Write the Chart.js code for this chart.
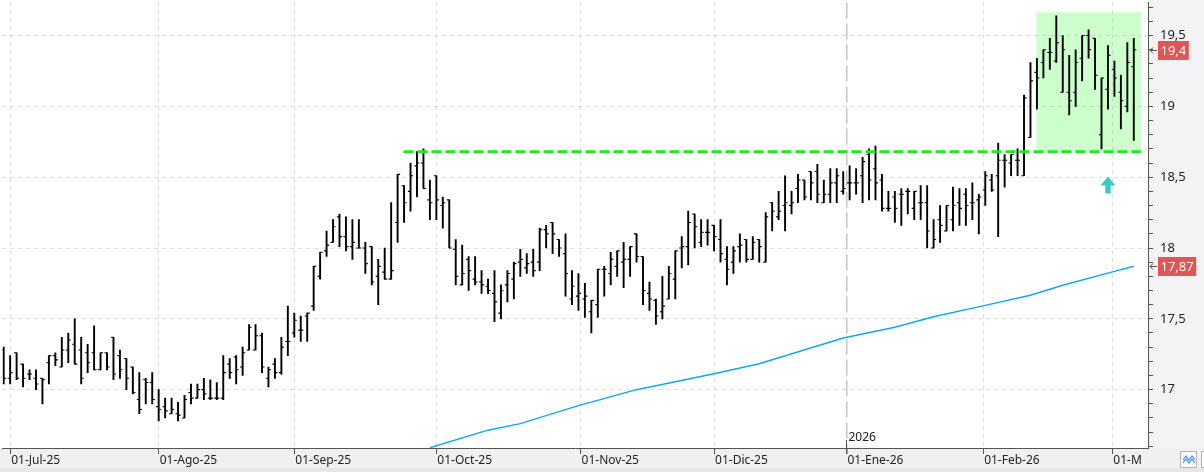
<!DOCTYPE html>
<html>
<head>
<meta charset="utf-8">
<script src="https://cdn.jsdelivr.net/npm/chart.js@4.4.1/dist/chart.umd.min.js"></script>
<style>
  html, body { margin: 0; padding: 0; background: #fff; }
  #wrap { width: 1204px; height: 472px; }
</style>
</head>
<body>
<div id="wrap"><canvas id="chart" width="1204" height="472"></canvas></div>
<script>
// daily bars, 30-Jun-25 .. 05-Mar-26 (one entry per trading day)
const opens = [17.28,17.08,17.26,17.18,17.11,17.08,17.08,17.19,17.24,17.16,17.28,17.32,17.28,17.26,17.26,17.14,17.26,17.37,17.24,17.22,17.16,16.93,17.07,17.05,
  16.88,16.88,16.83,16.83,16.80,16.98,16.94,17.00,16.94,16.94,16.94,17.18,17.23,17.16,17.28,17.28,17.38,17.08,17.18,17.12,17.34,
  17.40,17.42,17.52,17.59,17.80,17.98,18.04,18.22,18.08,18.01,18.00,18.00,18.01,17.80,17.83,17.78,18.18,18.44,18.40,18.58,18.60,18.34,
  18.51,18.30,18.34,17.99,17.74,17.92,17.78,17.76,17.73,17.68,17.54,17.74,17.78,17.90,17.86,17.90,17.90,18.13,18.18,18.06,17.96,17.64,17.66,
  17.64,17.55,17.60,17.85,17.82,17.87,17.90,17.92,18.10,17.94,17.68,17.63,17.55,17.64,17.78,18.00,18.01,18.24,18.04,18.11,
  18.16,18.06,17.92,17.90,18.01,18.06,17.92,18.06,17.90,18.32,18.22,18.30,18.30,18.42,18.48,18.54,18.54,18.32,18.38,18.46,18.40,
  18.46,18.46,18.51,18.66,18.56,18.48,18.28,18.36,18.38,18.40,18.28,18.32,18.32,18.00,18.20,18.12,18.20,18.32,18.38,18.32,18.34,
  18.41,18.48,18.51,18.62,18.60,18.62,18.51,18.78,19.24,19.31,19.38,19.32,19.10,19.10,19.10,19.34,19.50,19.48,18.80,19.12,
  19.26,19.10,19.00,19.28];
const highs = [17.30,17.24,17.26,17.18,17.14,17.14,17.08,17.24,17.26,17.37,17.40,17.50,17.37,17.32,17.45,17.26,17.26,17.37,17.28,17.22,17.16,17.12,17.08,17.12,
  17.00,16.94,16.94,16.91,16.96,17.04,17.04,17.08,17.07,17.05,17.24,17.22,17.24,17.30,17.46,17.46,17.40,17.16,17.22,17.37,17.59,
  17.54,17.52,17.54,17.87,17.97,18.12,18.20,18.24,18.22,18.20,18.20,18.04,18.01,17.92,18.00,18.32,18.52,18.44,18.60,18.68,18.70,18.48,
  18.51,18.36,18.34,18.06,18.02,17.94,17.94,17.84,17.78,17.84,17.74,17.84,17.90,17.99,17.96,17.99,18.14,18.16,18.18,18.06,18.10,17.84,17.82,
  17.75,17.63,17.85,17.87,17.97,17.98,18.04,18.01,18.10,17.94,17.76,17.64,17.80,17.87,17.98,18.08,18.26,18.24,18.20,18.20,
  18.16,18.20,18.01,18.01,18.10,18.06,18.08,18.06,18.25,18.32,18.40,18.51,18.40,18.52,18.48,18.54,18.59,18.48,18.56,18.56,18.54,
  18.58,18.56,18.64,18.70,18.72,18.52,18.40,18.40,18.42,18.42,18.40,18.44,18.44,18.20,18.30,18.30,18.43,18.42,18.42,18.46,18.38,
  18.54,18.52,18.74,18.66,18.66,18.70,19.08,19.31,19.34,19.40,19.48,19.64,19.50,19.36,19.40,19.50,19.54,19.48,19.20,19.43,
  19.32,19.22,19.45,19.48];
const lows = [17.04,17.04,17.07,17.02,17.07,17.00,16.90,17.04,17.17,17.16,17.19,17.18,17.04,17.12,17.14,17.14,17.14,17.07,17.08,17.00,16.97,16.83,16.90,16.90,
  16.78,16.80,16.83,16.78,16.80,16.90,16.94,16.93,16.93,16.93,16.93,17.08,17.04,17.10,17.28,17.28,17.12,17.02,17.08,17.11,17.24,
  17.37,17.34,17.34,17.56,17.78,17.94,18.04,18.01,17.98,17.92,18.00,17.82,17.74,17.60,17.78,17.78,18.04,18.18,18.26,18.36,18.42,18.20,
  18.20,18.14,18.00,17.74,17.74,17.70,17.74,17.68,17.68,17.48,17.50,17.62,17.64,17.80,17.82,17.80,17.84,18.00,17.96,17.94,17.66,17.60,17.56,
  17.51,17.40,17.51,17.66,17.74,17.80,17.72,17.80,17.90,17.60,17.56,17.46,17.50,17.64,17.64,17.86,17.88,18.00,18.01,18.02,
  17.98,17.90,17.74,17.82,17.90,17.90,17.92,17.90,17.90,18.12,18.20,18.12,18.24,18.32,18.34,18.34,18.32,18.32,18.32,18.32,18.38,
  18.34,18.38,18.32,18.34,18.34,18.26,18.26,18.18,18.16,18.24,18.20,18.20,18.00,18.00,18.04,18.12,18.12,18.16,18.16,18.20,18.10,
  18.30,18.40,18.08,18.43,18.51,18.51,18.51,18.78,18.98,19.20,19.26,19.31,19.10,18.94,19.00,19.18,19.34,19.12,18.70,18.98,
  19.07,18.84,18.96,18.76];
const closes = [17.08,17.12,17.08,17.08,17.11,17.04,17.07,17.24,17.21,17.28,17.35,17.18,17.08,17.19,17.14,17.26,17.16,17.11,17.14,17.08,16.98,16.86,17.05,16.93,
  16.86,16.85,16.86,16.82,16.93,16.94,17.00,16.97,16.94,16.94,17.12,17.12,17.14,17.26,17.44,17.38,17.16,17.14,17.12,17.30,17.34,
  17.49,17.42,17.54,17.87,17.97,18.02,18.15,18.08,18.01,18.04,18.00,17.89,17.76,17.87,17.78,17.84,18.52,18.32,18.51,18.60,18.42,18.32,
  18.34,18.32,18.00,17.80,17.82,17.84,17.76,17.74,17.70,17.62,17.70,17.82,17.89,17.92,17.89,17.84,18.13,18.10,18.10,18.00,17.82,17.73,17.68,
  17.66,17.63,17.85,17.85,17.92,17.98,17.92,18.01,17.94,17.70,17.64,17.52,17.59,17.82,17.98,18.01,18.18,18.15,18.11,18.11,
  18.08,17.96,17.85,17.98,18.02,17.92,18.04,18.01,18.22,18.26,18.26,18.32,18.32,18.48,18.36,18.46,18.38,18.38,18.46,18.51,18.42,
  18.46,18.46,18.61,18.48,18.46,18.28,18.28,18.28,18.38,18.40,18.40,18.32,18.12,18.06,18.16,18.30,18.30,18.28,18.30,18.32,18.36,
  18.51,18.41,18.62,18.62,18.66,18.62,19.06,19.18,19.20,19.40,19.38,19.45,19.40,19.04,19.31,19.50,19.40,19.22,19.20,19.36,
  19.20,19.04,19.31,19.40];

// 200-session average, read every few sessions (x = session index)
const maX = [66, 75, 80, 89, 98, 110, 117, 130, 138, 144, 152, 159, 164, 172, 175];
const maY = [16.59, 16.714, 16.76, 16.887, 17.0, 17.112, 17.183, 17.365, 17.44, 17.515, 17.595, 17.667, 17.737, 17.835, 17.871];

// month ticks (session index of the 1st of each month)
const monthPos = [1, 24, 45, 67, 89.33, 110, 130.5, 151.67, 171.67];
const monthLabels = ['01-Jul-25', '01-Ago-25', '01-Sep-25', '01-Oct-25', '01-Nov-25', '01-Dic-25', '01-Ene-26', '01-Feb-26', '01-Mar-26'];
const yearTick = 6;
const yearLabel = '2026';
const yMajor = [17, 17.5, 18, 18.5, 19, 19.5];

// drawn studies
const resistance = 18.68;
const resistanceSpan = [61.9, 176.1];
const zoneX = [159.9, 176.1];
const zoneY = [18.68, 19.664];
const signalAt = [171, 18.505];

const idx = closes.map((_, i) => i);
const tickOff = 0.19;
const isMajor = v => yMajor.some(m => Math.abs(m - v) < 1e-6);
const fmt = v => String(v).replace('.', ',');

const decor = {
  id: 'decor',
  beforeDraw(chart) {
    const { ctx, chartArea: a, width, height } = chart;
    ctx.save();
    ctx.fillStyle = '#ffffff';
    ctx.fillRect(0, 0, width, height);
    ctx.fillStyle = '#f3f3f6';
    ctx.fillRect(a.right, 0, width - a.right, a.bottom);
    ctx.fillStyle = '#f0f0f0';
    ctx.fillRect(0, a.bottom, width, 20);
    ctx.fillStyle = '#e6e6e6';
    ctx.fillRect(0, a.bottom + 20, width, height - a.bottom - 20);
    ctx.restore();
  },
  beforeDatasetsDraw(chart) {
    const { ctx, scales: { x, y } } = chart;
    ctx.save();
    ctx.fillStyle = 'rgba(0,255,0,0.2)';
    const x1 = x.getPixelForValue(zoneX[0]), x2 = x.getPixelForValue(zoneX[1]);
    const y1 = y.getPixelForValue(zoneY[1]), y2 = y.getPixelForValue(zoneY[0]);
    ctx.fillRect(x1, y1, x2 - x1, y2 - y1);
    ctx.restore();
  },
  afterDraw(chart) {
    const { ctx, chartArea: a, scales: { x, y }, width } = chart;
    ctx.save();
    // year marker
    const yx = Math.round(x.getPixelForValue(monthPos[yearTick])) + 0.5;
    ctx.strokeStyle = '#555';
    ctx.lineWidth = 1;
    ctx.beginPath(); ctx.moveTo(yx, a.bottom - 8); ctx.lineTo(yx, a.bottom); ctx.stroke();
    ctx.fillStyle = '#222';
    ctx.font = '12px "Noto Sans"';
    ctx.textBaseline = 'middle';
    ctx.fillText(yearLabel, yx + 2, a.bottom - 10);

    // buy signal arrow
    const sx = x.getPixelForValue(signalAt[0]), sy = y.getPixelForValue(signalAt[1]);
    ctx.fillStyle = '#3cc8cc';
    ctx.beginPath();
    ctx.moveTo(sx, sy);
    ctx.lineTo(sx + 7.5, sy + 9);
    ctx.lineTo(sx + 2.7, sy + 9);
    ctx.lineTo(sx + 2.7, sy + 17);
    ctx.lineTo(sx - 2.7, sy + 17);
    ctx.lineTo(sx - 2.7, sy + 9);
    ctx.lineTo(sx - 7.5, sy + 9);
    ctx.closePath();
    ctx.fill();

    // price tags on the right axis
    const tag = (v, text) => {
      const py = Math.round(y.getPixelForValue(v));
      ctx.font = '13px "Noto Sans"';
      const tw = ctx.measureText(text).width;
      ctx.fillStyle = '#e35454';
      ctx.fillRect(a.right + 10, py - 9, tw + 5, 19);
      ctx.fillStyle = '#ffffff';
      ctx.textBaseline = 'middle';
      ctx.fillText(text, a.right + 12.5, py + 1);
      ctx.strokeStyle = '#555';
      ctx.lineWidth = 1;
      ctx.beginPath();
      ctx.moveTo(a.right + 2, py + 0.5); ctx.lineTo(a.right + 9, py + 0.5);
      ctx.moveTo(a.right + 5, py - 2.5); ctx.lineTo(a.right + 2, py + 0.5); ctx.lineTo(a.right + 5, py + 3.5);
      ctx.stroke();
    };
    tag(closes[closes.length - 1], fmt(closes[closes.length - 1]));
    tag(maY[maY.length - 1], fmt(Math.round(maY[maY.length - 1] * 100) / 100));

    // bottom right corner of the axis band
    ctx.fillStyle = '#f0f0f0';
    ctx.fillRect(a.right - 6, a.bottom + 1, width - a.right + 6, 19);
    ctx.fillStyle = '#ffffff';
    ctx.strokeStyle = '#b4b4b4';
    ctx.fillRect(1180.5, a.bottom + 3.5, 16, 16);
    ctx.strokeRect(1180.5, a.bottom + 3.5, 16, 16);
    ctx.fillRect(1201.5, a.bottom + 3.5, 6, 16);
    ctx.strokeRect(1201.5, a.bottom + 3.5, 6, 16);
    ctx.strokeStyle = '#3d8fd8';
    ctx.lineWidth = 1.2;
    ctx.beginPath();
    ctx.moveTo(1183, a.bottom + 12); ctx.lineTo(1186, a.bottom + 8); ctx.lineTo(1189, a.bottom + 12);
    ctx.lineTo(1192, a.bottom + 8); ctx.lineTo(1195, a.bottom + 12);
    ctx.moveTo(1183, a.bottom + 15); ctx.lineTo(1186, a.bottom + 11); ctx.lineTo(1189, a.bottom + 15);
    ctx.lineTo(1192, a.bottom + 11); ctx.lineTo(1195, a.bottom + 15);
    ctx.stroke();
    ctx.restore();
  }
};

new Chart(document.getElementById('chart'), {
  type: 'bar',
  data: {
    datasets: [
      {
        type: 'line',
        data: resistanceSpan.map(v => ({ x: v, y: resistance })),
        borderColor: '#1ee81e',
        borderWidth: 3,
        borderDash: [10, 4],
        pointRadius: 0
      },
      {
        type: 'line',
        showLine: false,
        data: idx.map(i => ({ x: i - tickOff, y: opens[i] })),
        pointStyle: 'line',
        pointRadius: 1.3,
        pointHoverRadius: 1.3,
        pointBorderWidth: 1.1,
        pointBorderColor: '#000'
      },
      {
        type: 'line',
        showLine: false,
        data: idx.map(i => ({ x: i + tickOff, y: closes[i] })),
        pointStyle: 'line',
        pointRadius: 1.3,
        pointHoverRadius: 1.3,
        pointBorderWidth: 1.1,
        pointBorderColor: '#000'
      },
      {
        type: 'bar',
        data: idx.map(i => ({ x: i, y: [lows[i], highs[i]] })),
        backgroundColor: '#000',
        borderWidth: 0,
        barThickness: 1.25,
        grouped: false
      },
      {
        type: 'line',
        data: maX.map((v, k) => ({ x: v, y: maY[k] })),
        borderColor: '#12a8ec',
        borderWidth: 1.5,
        pointRadius: 0,
        tension: 0
      }
    ]
  },
  options: {
    responsive: false,
    animation: false,
    devicePixelRatio: 1,
    layout: { padding: 0 },
    plugins: { legend: { display: false }, tooltip: { enabled: false } },
    scales: {
      x: {
        type: 'linear',
        min: -0.2,
        max: 177.2,
        offset: false,
        afterBuildTicks: s => { s.ticks = monthPos.map(v => ({ value: v })); },
        afterFit: s => { s.height = 24; s.paddingLeft = 0; s.paddingRight = 0; },
        grid: {
          offset: false,
          color: c => (c.index === yearTick ? '#c6c6c6' : '#dedede'),
          lineWidth: c => (c.index === yearTick ? 1.5 : 1),
          tickColor: '#555',
          tickLength: 6
        },
        border: {
          color: '#555',
          width: 1,
          dash: c => (c.index === yearTick ? [16, 5] : [4, 4])
        },
        ticks: {
          callback: (v, i) => monthLabels[i],
          align: 'start',
          autoSkip: false,
          maxRotation: 0,
          padding: -1,
          labelOffset: 1,
          color: '#222',
          font: { family: 'Noto Sans', size: 12 }
        }
      },
      y: {
        type: 'linear',
        position: 'right',
        min: 16.588,
        max: 19.734,
        afterBuildTicks: s => {
          const t = [];
          for (let k = 166; k <= 197; k++) t.push({ value: k / 10 });
          s.ticks = t;
        },
        afterFit: s => { s.width = 56; s.paddingTop = 0; s.paddingBottom = 0; },
        grid: {
          color: c => (c.tick && isMajor(c.tick.value) ? '#dedede' : 'rgba(0,0,0,0)'),
          tickColor: '#555',
          tickLength: 5
        },
        border: { color: '#555', width: 1, dash: [4, 4] },
        ticks: {
          callback: v => (isMajor(v) ? fmt(v) : ''),
          autoSkip: false,
          padding: 7,
          color: '#222',
          font: { family: 'Noto Sans', size: 13 }
        }
      }
    }
  },
  plugins: [decor]
});
</script>
</body>
</html>
